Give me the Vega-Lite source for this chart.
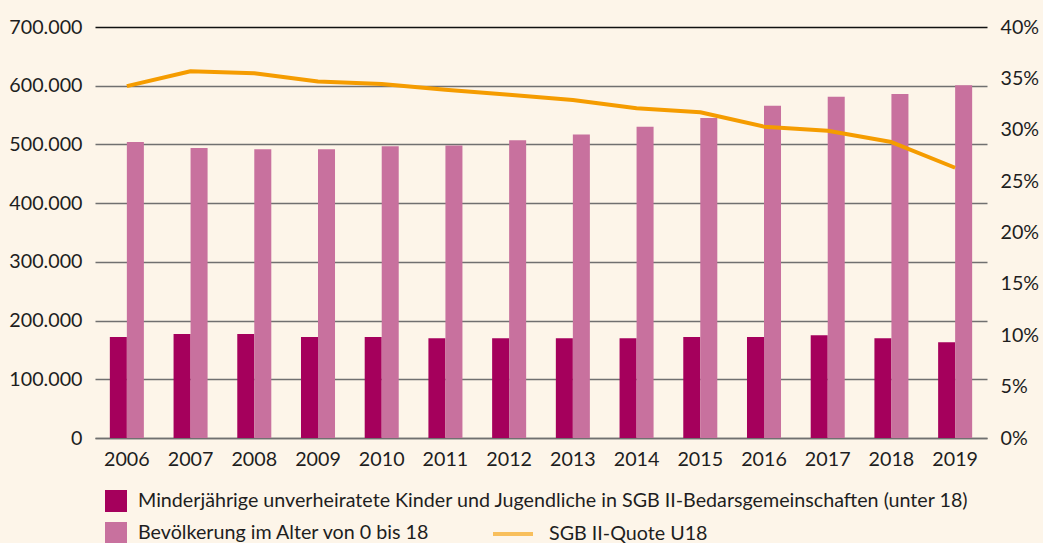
{
  "$schema": "https://vega.github.io/schema/vega-lite/v6.json",
  "autosize": "none",
  "width": 892,
  "height": 411,
  "padding": {"left": 95, "top": 27, "right": 56, "bottom": 105},
  "background": "#fdf5e9",
  "config": {
    "locale": {"number": {"decimal": ",", "thousands": ".", "grouping": [3], "currency": ["", " €"]}},
    "font": "Lato",
    "view": {"stroke": null},
    "axis": {"labelFont": "Lato", "labelFontSize": 19.7, "labelColor": "#1e1e1e", "ticks": false, "title": null},
    "legend": {"labelFont": "Lato", "labelFontSize": 19.7, "labelColor": "#1e1e1e", "labelLimit": 1200}
  },
  "layer": [
    {
      "data": {"values": [
        {"Jahr": "2006", "Reihe": "Minderjährige unverheiratete Kinder und Jugendliche in SGB II-Bedarsgemeinschaften (unter 18)", "Wert": 172000},
        {"Jahr": "2007", "Reihe": "Minderjährige unverheiratete Kinder und Jugendliche in SGB II-Bedarsgemeinschaften (unter 18)", "Wert": 177000},
        {"Jahr": "2008", "Reihe": "Minderjährige unverheiratete Kinder und Jugendliche in SGB II-Bedarsgemeinschaften (unter 18)", "Wert": 177000},
        {"Jahr": "2009", "Reihe": "Minderjährige unverheiratete Kinder und Jugendliche in SGB II-Bedarsgemeinschaften (unter 18)", "Wert": 172000},
        {"Jahr": "2010", "Reihe": "Minderjährige unverheiratete Kinder und Jugendliche in SGB II-Bedarsgemeinschaften (unter 18)", "Wert": 172000},
        {"Jahr": "2011", "Reihe": "Minderjährige unverheiratete Kinder und Jugendliche in SGB II-Bedarsgemeinschaften (unter 18)", "Wert": 170000},
        {"Jahr": "2012", "Reihe": "Minderjährige unverheiratete Kinder und Jugendliche in SGB II-Bedarsgemeinschaften (unter 18)", "Wert": 170000},
        {"Jahr": "2013", "Reihe": "Minderjährige unverheiratete Kinder und Jugendliche in SGB II-Bedarsgemeinschaften (unter 18)", "Wert": 170000},
        {"Jahr": "2014", "Reihe": "Minderjährige unverheiratete Kinder und Jugendliche in SGB II-Bedarsgemeinschaften (unter 18)", "Wert": 170000},
        {"Jahr": "2015", "Reihe": "Minderjährige unverheiratete Kinder und Jugendliche in SGB II-Bedarsgemeinschaften (unter 18)", "Wert": 172000},
        {"Jahr": "2016", "Reihe": "Minderjährige unverheiratete Kinder und Jugendliche in SGB II-Bedarsgemeinschaften (unter 18)", "Wert": 172000},
        {"Jahr": "2017", "Reihe": "Minderjährige unverheiratete Kinder und Jugendliche in SGB II-Bedarsgemeinschaften (unter 18)", "Wert": 175000},
        {"Jahr": "2018", "Reihe": "Minderjährige unverheiratete Kinder und Jugendliche in SGB II-Bedarsgemeinschaften (unter 18)", "Wert": 170000},
        {"Jahr": "2019", "Reihe": "Minderjährige unverheiratete Kinder und Jugendliche in SGB II-Bedarsgemeinschaften (unter 18)", "Wert": 163000},
        {"Jahr": "2006", "Reihe": "Bevölkerung im Alter von 0 bis 18", "Wert": 504000},
        {"Jahr": "2007", "Reihe": "Bevölkerung im Alter von 0 bis 18", "Wert": 494000},
        {"Jahr": "2008", "Reihe": "Bevölkerung im Alter von 0 bis 18", "Wert": 492000},
        {"Jahr": "2009", "Reihe": "Bevölkerung im Alter von 0 bis 18", "Wert": 492000},
        {"Jahr": "2010", "Reihe": "Bevölkerung im Alter von 0 bis 18", "Wert": 497000},
        {"Jahr": "2011", "Reihe": "Bevölkerung im Alter von 0 bis 18", "Wert": 498000},
        {"Jahr": "2012", "Reihe": "Bevölkerung im Alter von 0 bis 18", "Wert": 507000},
        {"Jahr": "2013", "Reihe": "Bevölkerung im Alter von 0 bis 18", "Wert": 517000},
        {"Jahr": "2014", "Reihe": "Bevölkerung im Alter von 0 bis 18", "Wert": 530000},
        {"Jahr": "2015", "Reihe": "Bevölkerung im Alter von 0 bis 18", "Wert": 545000},
        {"Jahr": "2016", "Reihe": "Bevölkerung im Alter von 0 bis 18", "Wert": 566000},
        {"Jahr": "2017", "Reihe": "Bevölkerung im Alter von 0 bis 18", "Wert": 581000},
        {"Jahr": "2018", "Reihe": "Bevölkerung im Alter von 0 bis 18", "Wert": 586000},
        {"Jahr": "2019", "Reihe": "Bevölkerung im Alter von 0 bis 18", "Wert": 601000}
      ]},
      "mark": {"type": "bar"},
      "encoding": {
        "x": {
          "field": "Jahr", "type": "nominal",
          "scale": {"paddingInner": 0.466, "paddingOuter": 0.233},
          "axis": {"labelAngle": 0, "labelPadding": 11, "domain": true, "domainColor": "#707070", "domainWidth": 1.5, "grid": false}
        },
        "xOffset": {
          "field": "Reihe", "type": "nominal",
          "sort": ["Minderjährige unverheiratete Kinder und Jugendliche in SGB II-Bedarsgemeinschaften (unter 18)", "Bevölkerung im Alter von 0 bis 18"],
          "scale": {"paddingInner": 0, "paddingOuter": 0}
        },
        "y": {
          "field": "Wert", "type": "quantitative",
          "scale": {"domain": [0, 700000], "nice": false},
          "axis": {
            "values": [0, 100000, 200000, 300000, 400000, 500000, 600000, 700000],
            "format": ",.0f", "labelPadding": 13, "domain": false, "grid": true,
            "gridColor": {"condition": {"test": "datum.value == 700000", "value": "#111111"}, "value": "#707070"},
            "gridWidth": 1.5
          }
        },
        "color": {
          "field": "Reihe", "type": "nominal",
          "scale": {
            "domain": ["Minderjährige unverheiratete Kinder und Jugendliche in SGB II-Bedarsgemeinschaften (unter 18)", "Bevölkerung im Alter von 0 bis 18"],
            "range": ["#a5005c", "#c8719e"]
          },
          "legend": {
            "title": null, "orient": "none", "legendX": 10, "legendY": 463, "direction": "vertical",
            "symbolType": "square", "symbolSize": 484, "symbolStrokeWidth": 0, "symbolOpacity": 1,
            "rowPadding": 10, "labelOffset": 11
          }
        }
      }
    },
    {
      "data": {"values": [
        {"Jahr": "2006", "Quote": 0.3425},
        {"Jahr": "2007", "Quote": 0.357},
        {"Jahr": "2008", "Quote": 0.355},
        {"Jahr": "2009", "Quote": 0.347},
        {"Jahr": "2010", "Quote": 0.3445},
        {"Jahr": "2011", "Quote": 0.339},
        {"Jahr": "2012", "Quote": 0.334},
        {"Jahr": "2013", "Quote": 0.329},
        {"Jahr": "2014", "Quote": 0.321},
        {"Jahr": "2015", "Quote": 0.317},
        {"Jahr": "2016", "Quote": 0.303},
        {"Jahr": "2017", "Quote": 0.299},
        {"Jahr": "2018", "Quote": 0.288},
        {"Jahr": "2019", "Quote": 0.263}
      ]},
      "mark": {"type": "line", "strokeWidth": 4, "strokeJoin": "round"},
      "encoding": {
        "x": {"field": "Jahr", "type": "nominal"},
        "y": {
          "field": "Quote", "type": "quantitative",
          "scale": {"domain": [0, 0.4], "nice": false},
          "axis": {
            "orient": "right", "values": [0, 0.05, 0.1, 0.15, 0.2, 0.25, 0.3, 0.35, 0.4],
            "format": ".0%", "labelPadding": 13, "domain": false, "grid": false
          }
        },
        "stroke": {
          "datum": "SGB II-Quote U18",
          "scale": {"range": ["#f59c00"]},
          "legend": {
            "title": null, "orient": "none", "legendX": 396, "legendY": 485,
            "symbolType": "stroke", "symbolSize": 1600, "symbolStrokeWidth": 4, "symbolOpacity": 0.6,
            "labelOffset": 14
          }
        }
      }
    }
  ],
  "resolve": {"scale": {"y": "independent"}}
}
